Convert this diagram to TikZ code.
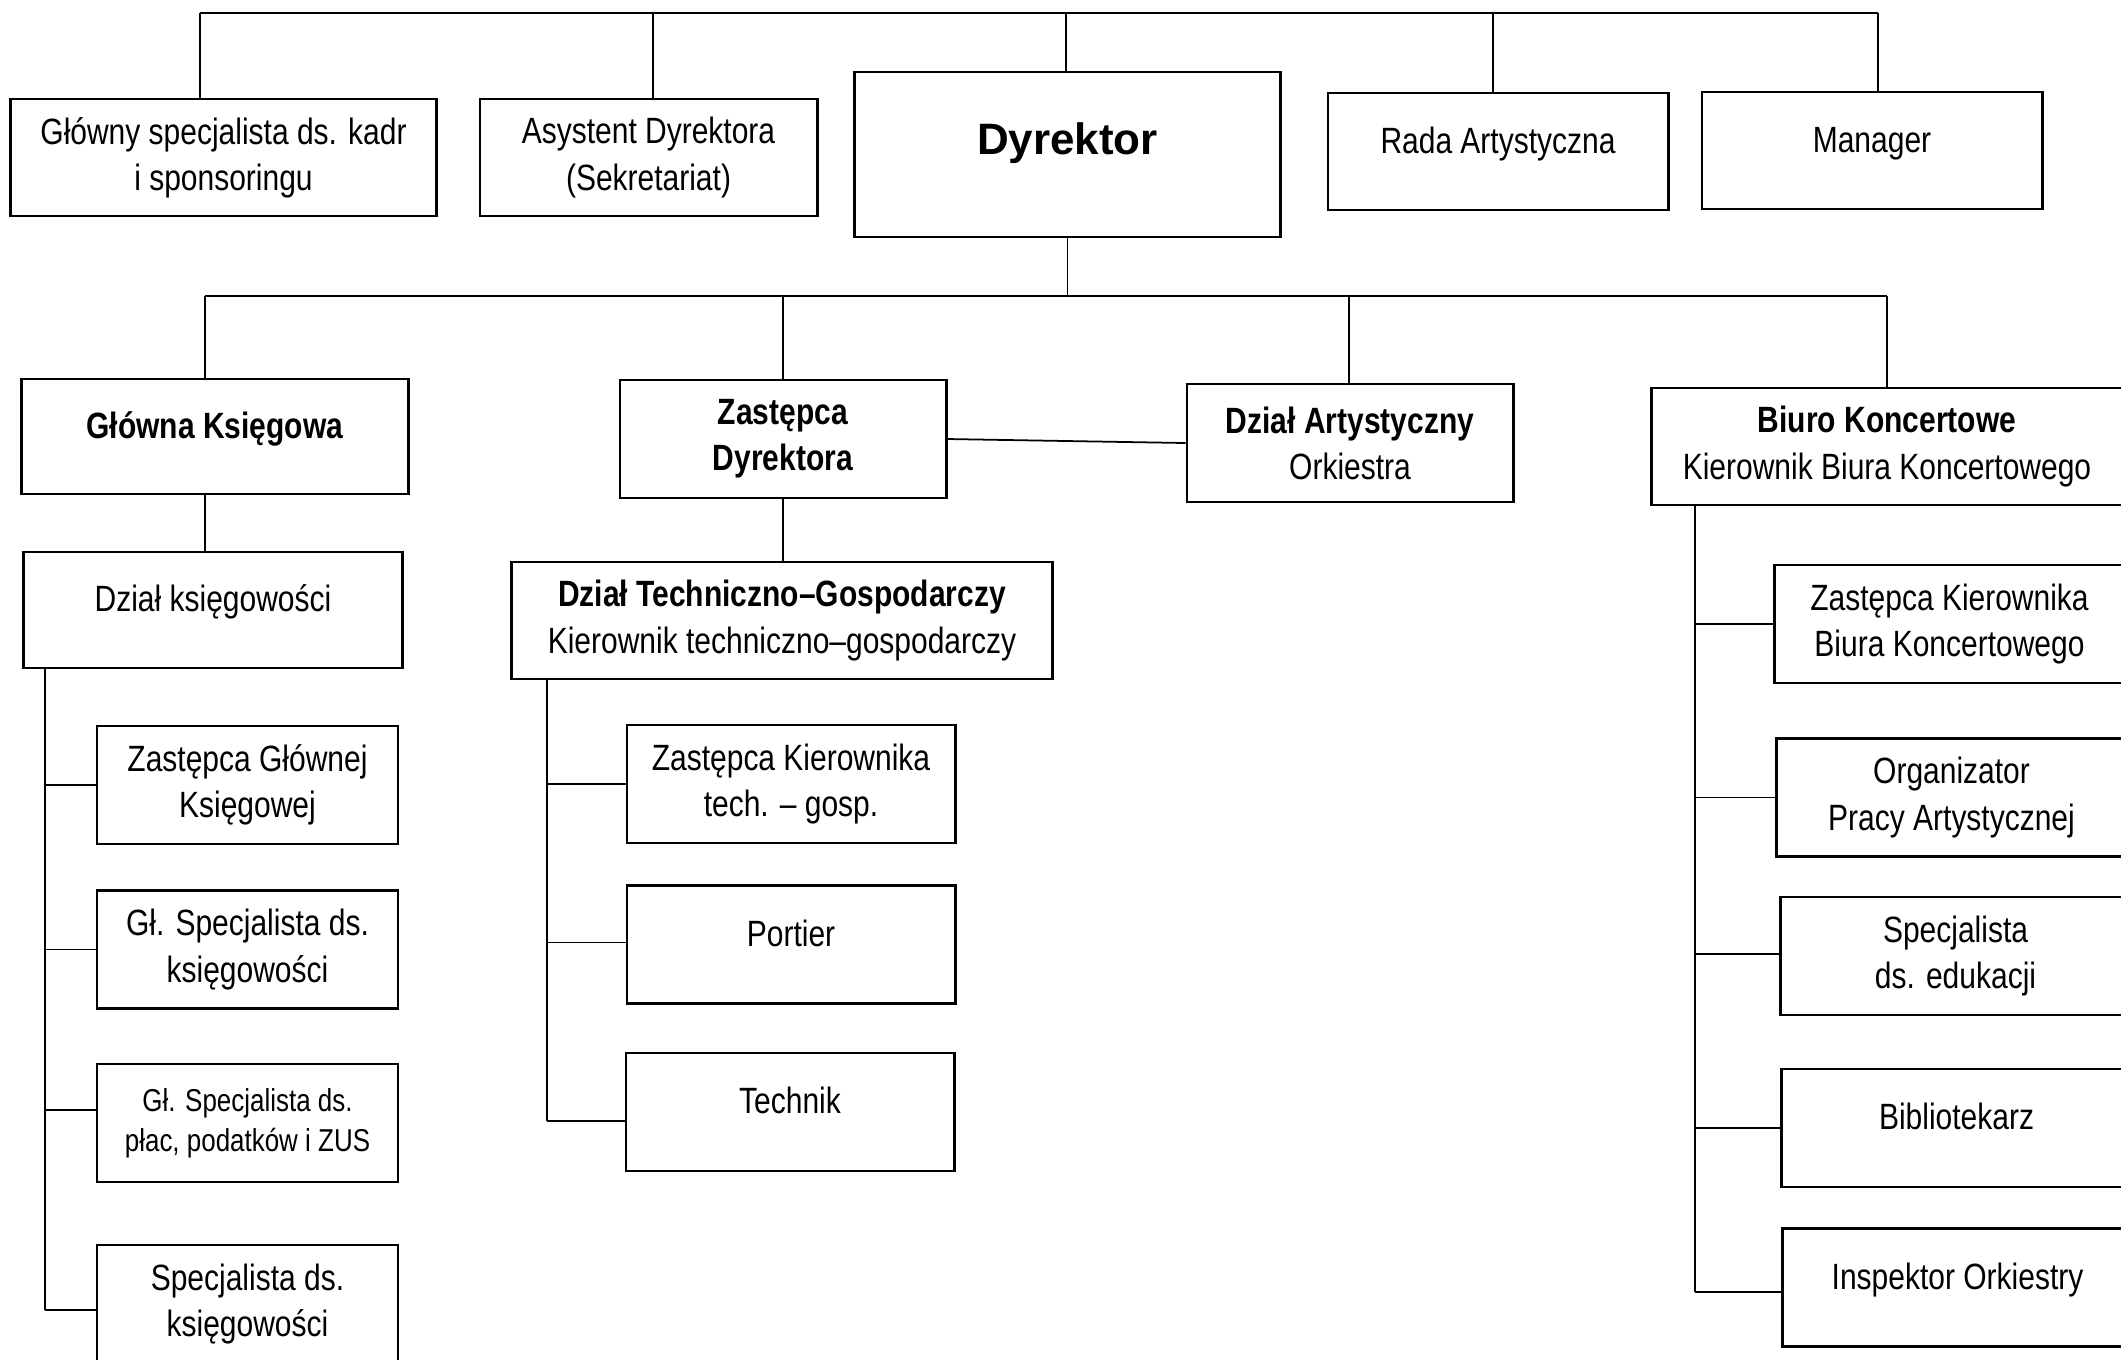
\documentclass[tikz,border=0pt]{standalone}
\usepackage{fontspec}
\setmainfont{Liberation Sans}[FakeStretch=0.82]
\newfontfamily\headfont{Liberation Sans}
\usetikzlibrary{positioning}

\begin{document}
\begin{tikzpicture}[x=0.01cm, y=-0.01cm,
    box/.style={draw, line width=0.8pt, rectangle, align=center, inner sep=2pt,
      minimum height=1.17cm, font=\fontsize{10.4pt}{13.1pt}\selectfont},
    single/.style={text height=8pt, text depth=6.9pt},
    link/.style={line width=0.5pt},
    bar/.style={line width=0.8pt}]
  \useasboundingbox (0,0) rectangle (2121,1359);
  \clip (0,0) rectangle (2121,1359);

  % top row
  \node[box, minimum width=4.25cm] (kadry) at (223.5,157.5) {Główny specjalista ds. kadr\\i sponsoringu};
  \node[box, minimum width=3.37cm] (asyst) at (648.5,157.5) {Asystent Dyrektora\\(Sekretariat)};
  \node[box, minimum width=4.25cm, minimum height=1.65cm, text height=9pt, text depth=9pt,
    font=\headfont\fontsize{12.5pt}{15pt}\selectfont\bfseries] (dyr) at (1067.5,154.5) {Dyrektor};
  \node[box, single, minimum width=3.4cm] (rada) at (1498,151.5) {Rada Artystyczna};
  \node[box, single, minimum width=3.4cm] (manager) at (1872,150.5) {Manager};

  % bar above the top row
  \coordinate (t1) at (200,13);
  \coordinate (t2) at (653,13);
  \coordinate (t3) at (1066,13);
  \coordinate (t4) at (1493,13);
  \coordinate (t5) at (1878,13);
  \draw[bar] (t1) -- (t5);
  \foreach \c/\n in {t1/kadry, t2/asyst, t3/dyr, t4/rada, t5/manager}
    \draw[link] (\c) -- (\c |- \n.north);

  % second row
  \node[box, single, minimum width=3.86cm, minimum height=1.15cm] (glowna) at (215,436.5) {\textbf{Główna Księgowa}};
  \node[box, minimum width=3.26cm, minimum height=1.18cm] (zastepca) at (783,439) {\textbf{Zastępca}\\\textbf{Dyrektora}};
  \node[box, minimum width=3.26cm, minimum height=1.18cm] (artyst) at (1350,443) {\textbf{Dział Artystyczny}\\Orkiestra};
  \node[box, minimum width=4.7cm] (biuro) at (1887,446.5) {\textbf{Biuro Koncertowe}\\Kierownik Biura Koncertowego};

  % bar below the director
  \coordinate (b1) at (205,296);
  \coordinate (b2) at (783,296);
  \coordinate (b3) at (1349,296);
  \coordinate (b4) at (1887,296);
  \draw[link] (dyr.south) -- (dyr.south |- b2);
  \draw[bar] (b1) -- (b4);
  \foreach \c/\n in {b1/glowna, b2/zastepca, b3/artyst, b4/biuro}
    \draw[link] (\c) -- (\c |- \n.north);
  \draw[link] (zastepca.east) -- (artyst.west);

  % third row
  \node[box, single, minimum width=3.78cm, minimum height=1.16cm] (dzialks) at (213,610) {Dział księgowości};
  \node[box, minimum width=5.4cm] (tech) at (782,620.5) {\textbf{Dział Techniczno–Gospodarczy}\\Kierownik techniczno–gospodarczy};
  \draw[link] (b1 |- glowna.south) -- (b1 |- dzialks.north);
  \draw[link] (zastepca.south) -- (zastepca.south |- tech.north);

  % accounting staff
  \begin{scope}[every node/.style={box, minimum width=3.01cm, minimum height=1.18cm}]
    \node (zgk) at (247.5,785) {Zastępca Głównej\\Księgowej};
    \node (gsk) at (247.5,949.5) {Gł. Specjalista ds.\\księgowości};
    \node[font=\fontsize{9pt}{11.4pt}\selectfont] (gsp) at (247.5,1123) {Gł. Specjalista ds.\\płac, podatków i ZUS};
    \node (sk) at (247.5,1304) {Specjalista ds.\\księgowości};
  \end{scope}
  \coordinate (ks) at (45,668);
  \foreach \n/\d in {zgk/0, gsk/0, gsp/0.13, sk/-0.06} {
    \coordinate (e) at ([yshift=\d cm]\n.west);
    \draw[link] (ks |- e) -- (e);
  }
  \draw[link] (ks) -- (ks |- e);

  % technical staff
  \begin{scope}[every node/.style={box, minimum width=3.28cm, minimum height=1.18cm}]
    \node (ztech) at (791,784) {Zastępca Kierownika\\tech. – gosp.};
    \node[single] (portier) at (791,944.5) {Portier};
    \node[single] (technik) at (790,1112) {Technik};
  \end{scope}
  \coordinate (ts) at (547,679);
  \foreach \n/\d in {ztech/0, portier/0.02, technik/-0.09} {
    \coordinate (e) at ([yshift=\d cm]\n.west);
    \draw[link] (ts |- e) -- (e);
  }
  \draw[link] (ts) -- (ts |- e);

  % concert office staff
  \begin{scope}[every node/.style={box, anchor=west, minimum width=3.5cm, minimum height=1.18cm}]
    \node (zkb) at (1773,624) {Zastępca Kierownika\\Biura Koncertowego};
    \node (org) at (1775,797.5) {Organizator\\Pracy Artystycznej};
    \node (sed) at (1779,956) {Specjalista\\ds. edukacji};
    \node[single] (bib) at (1780,1128) {Bibliotekarz};
    \node[single] (insp) at (1781,1287.5) {Inspektor Orkiestry};
  \end{scope}
  \coordinate (bs) at (1695,505);
  \foreach \n/\d in {zkb/0, org/0, sed/0.02, bib/0, insp/-0.045} {
    \coordinate (e) at ([yshift=\d cm]\n.west);
    \draw[link] (bs |- e) -- (e);
  }
  \draw[link] (bs) -- (bs |- e);

\end{tikzpicture}
\end{document}
